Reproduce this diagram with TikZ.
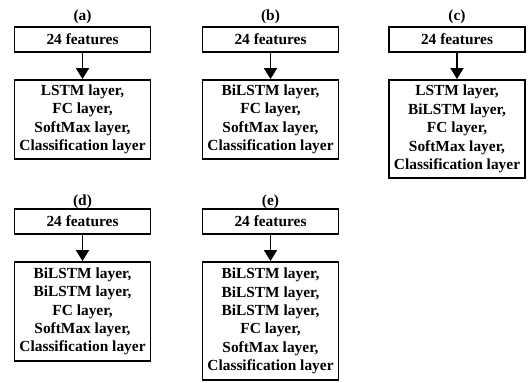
\documentclass[tikz,border=0pt]{standalone}
\usepackage{fontspec}
\setmainfont{Liberation Serif}
\usetikzlibrary{arrows.meta}
\begin{document}
\begin{tikzpicture}[x=1pt,y=-1pt,
  every node/.style={font=\bfseries\fontsize{15.4}{18.4}\selectfont, inner sep=0pt},
  feat/.style={draw, line width=1.9pt, minimum width=136pt, minimum height=25pt},
  layers/.style={draw, line width=1.9pt, minimum width=136pt, align=center},
  lbl/.style={},
  conn/.style={line width=1.9pt, -{Triangle[width=13pt,length=11pt]}}
]
\useasboundingbox (0,0) rectangle (531,383);
% (a)
\node[lbl] (la) at (82.5,17) {(a)};
\node[feat] (fa) at (82.5,39.5) {24 features};
\node[layers, minimum height=79pt] (ba) at (82.5,119.5) {LSTM layer,\\FC layer,\\SoftMax layer,\\Classification layer};
\draw[conn] (fa) -- (ba);
% (b)
\node[lbl] (lb) at (270.5,17) {(b)};
\node[feat] (fb) at (270.5,39.5) {24 features};
\node[layers, minimum height=79pt] (bb) at (270.5,119.5) {BiLSTM layer,\\FC layer,\\SoftMax layer,\\Classification layer};
\draw[conn] (fb) -- (bb);
% (c)
\node[lbl] (lc) at (457,17) {(c)};
\node[feat] (fc) at (457,39.5) {24 features};
\node[layers, minimum height=98pt] (bc) at (457,129) {LSTM layer,\\BiLSTM layer,\\FC layer,\\SoftMax layer,\\Classification layer};
\draw[conn] (fc) -- (bc);
% (d)
\node[lbl] (ld) at (82.5,201.5) {(d)};
\node[feat] (fd) at (82.5,221.5) {24 features};
\node[layers, minimum height=99pt] (bd) at (82.5,311.5) {BiLSTM layer,\\BiLSTM layer,\\FC layer,\\SoftMax layer,\\Classification layer};
\draw[conn] (fd) -- (bd);
% (e)
\node[lbl] (le) at (270.5,201.5) {(e)};
\node[feat] (fe) at (270.5,221.5) {24 features};
\node[layers, minimum height=118pt] (be) at (270.5,321) {BiLSTM layer,\\BiLSTM layer,\\BiLSTM layer,\\FC layer,\\SoftMax layer,\\Classification layer};
\draw[conn] (fe) -- (be);
\end{tikzpicture}
\end{document}
